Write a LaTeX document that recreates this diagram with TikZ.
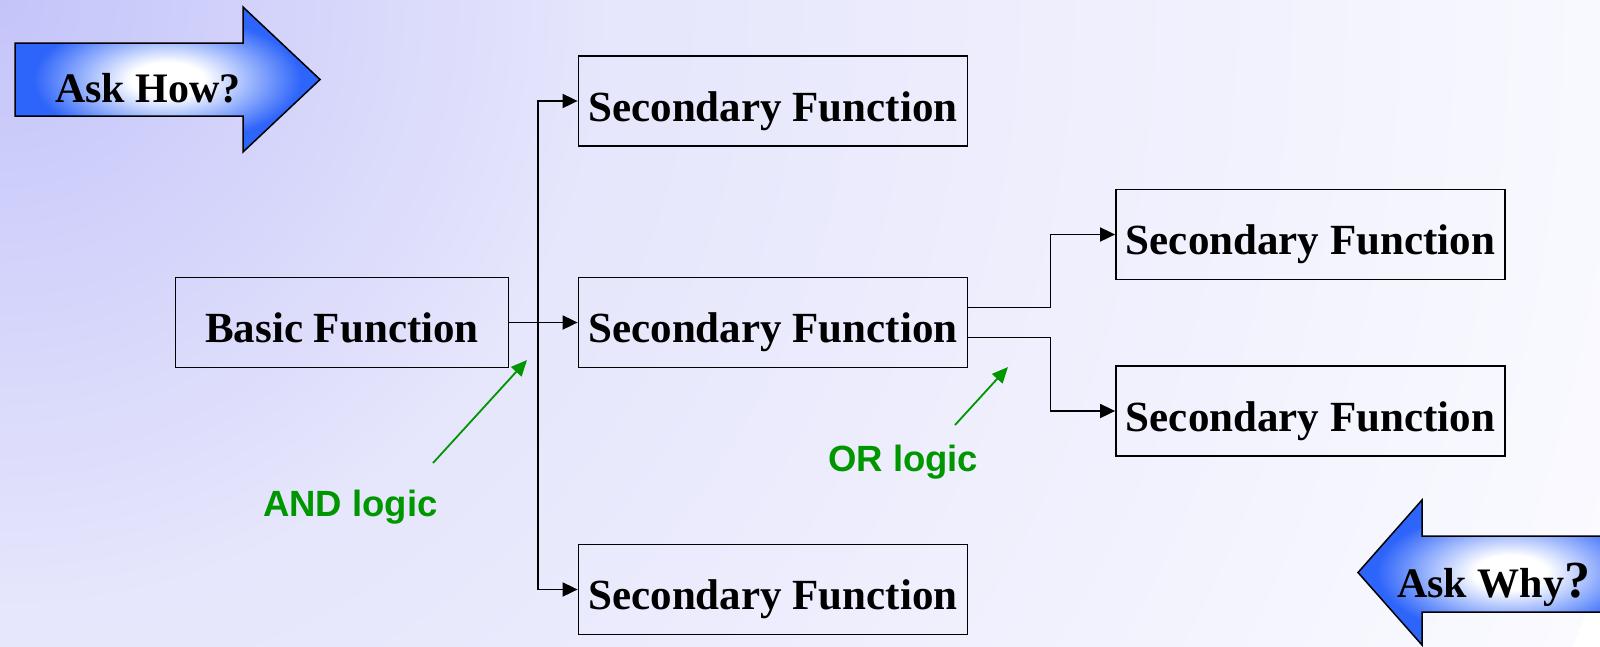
\documentclass[tikz,border=0pt]{standalone}
\usepackage{fontspec}
\setmainfont{Liberation Serif}
\newfontfamily\labelfont{Liberation Sans}
\usetikzlibrary{arrows.meta}

\definecolor{bgA}{RGB}{196,196,250}
\definecolor{bgM}{RGB}{230,230,252}
\definecolor{bgB}{RGB}{250,250,255}
\definecolor{arrowblue}{RGB}{45,100,250}
\definecolor{logicgreen}{RGB}{0,150,0}

% page background: lavender in the upper left, fading to white
\pgfdeclareradialshading{bgshade}{\pgfpoint{0bp}{0bp}}{%
  color(0bp)=(bgA); color(9bp)=(bgM); color(25bp)=(bgB); color(50bp)=(bgB)}
% block arrows: white core, blue rim
\pgfdeclareradialshading{arrowshade}{\pgfpoint{0bp}{0bp}}{%
  color(0bp)=(white); color(6bp)=(white); color(22bp)=(arrowblue); color(50bp)=(arrowblue)}

\begin{document}
\begin{tikzpicture}[x=1pt,y=-1pt,
  fbox/.style={draw=black, line width=1.8pt, inner sep=0pt, minimum height=90pt,
    text height=40pt, text depth=0pt, font=\fontsize{43}{50}\selectfont\bfseries},
  conn/.style={line width=1.8pt, -{Triangle[length=15pt,width=14pt]}},
  logic/.style={draw=logicgreen, line width=1.8pt, -{Triangle[length=16pt,width=14pt]}},
  logictext/.style={text=logicgreen, inner sep=0pt, anchor=base west,
    font=\labelfont\fontsize{36.5}{44}\selectfont\bfseries},
  asktext/.style={inner sep=0pt, anchor=base west, font=\fontsize{42}{50}\selectfont\bfseries}]

\clip (0,0) rectangle (1600,646);
\shade[shading=bgshade] (0,0) circle (1700pt);

% "how" and "why" block arrows
\shadedraw[shading=arrowshade, draw=black, line width=1.5pt]
  (15,43) -- (243,43) -- (243,7) -- (320,79.5) -- (243,152) -- (243,116) -- (15,116) -- cycle;
\node[asktext] (askhow) at (55,102) {Ask How?};

\shadedraw[shading=arrowshade, draw=black, line width=1.5pt]
  (1663,536) -- (1422,536) -- (1422,500) -- (1358,572.5) -- (1422,645) -- (1422,612) -- (1663,612) -- cycle;
\node[asktext] (askwhy) at (1397,597) {Ask Why{\fontsize{52}{60}\selectfont ?}};

% function boxes
\node[fbox, minimum width=333pt] (basic) at (342,322.5) {Basic Function};
\node[fbox, minimum width=389pt] (s1) at (773,101) {Secondary Function};
\node[fbox, minimum width=389pt] (s2) at (773,322.5) {Secondary Function};
\node[fbox, minimum width=389pt] (s3) at (773,589.5) {Secondary Function};
\node[fbox, minimum width=389pt] (r1) at (1310.5,234.5) {Secondary Function};
\node[fbox, minimum width=389pt] (r2) at (1310.5,411) {Secondary Function};

% AND branch
\coordinate (split) at (538,322.5);
\draw[line width=1.8pt] (basic.east) -- (split);
\draw[conn] (split) -- (s2.west);
\draw[conn] (split) |- (s1.west);
\draw[conn] (split) |- (s3.west);

% OR branch
\draw[conn] ([yshift=15pt]s2.east) -- ++(82,0) |- (r1.west);
\draw[conn] ([yshift=-15pt]s2.east) -- ++(82,0) |- (r2.west);

% logic annotations
\coordinate (andtail) at (433,463);
\coordinate (andtip) at (527,360);
\draw[logic] (andtail) -- (andtip);
\node[logictext] (andlbl) at (263,516) {AND logic};

\coordinate (ortail) at (955,425);
\coordinate (ortip) at (1008,367);
\draw[logic] (ortail) -- (ortip);
\node[logictext] (orlbl) at (828,471) {OR logic};
\end{tikzpicture}
\end{document}
